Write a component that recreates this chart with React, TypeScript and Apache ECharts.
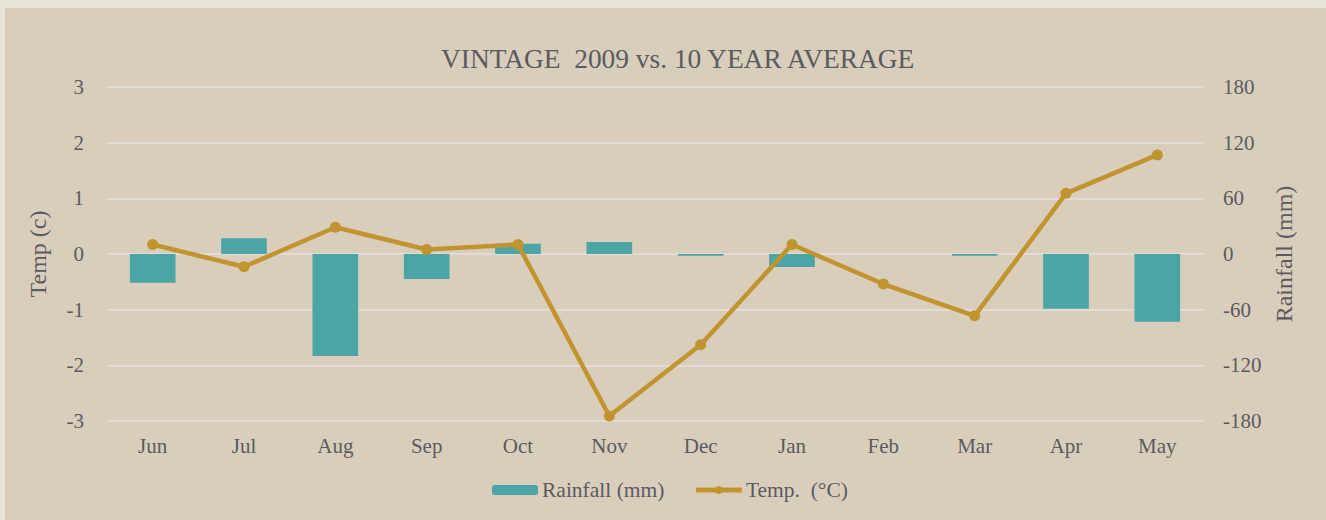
import React, { useEffect, useRef } from "react";
import * as echarts from "echarts";

const months = ["Jun", "Jul", "Aug", "Sep", "Oct", "Nov", "Dec", "Jan", "Feb", "Mar", "Apr", "May"];
const rainfallMm = [-31, 17, -110, -27, 11, 13, -2, -14, 0, -2, -59, -73];
const tempC = [0.17, -0.23, 0.48, 0.08, 0.17, -2.91, -1.63, 0.17, -0.54, -1.11, 1.09, 1.78];
const tempTicks = { min: -3, max: 3, interval: 1 };
const rainTicks = { min: -180, max: 180, interval: 60 };

const FONT = "'Liberation Serif', 'DejaVu Serif', serif";
const TEXT = "#5a5b60";
const GOLD = "#c29430";
const TEAL = "#4ba5a6";

export default function App() {
  const ref = useRef<HTMLDivElement>(null);
  useEffect(() => {
    document.body.style.margin = "0";
    document.body.style.background = "#e8e4d9";
    const chart = echarts.init(ref.current!, undefined, { renderer: "svg" });
    chart.setOption({
      animation: false,
      backgroundColor: "#d9cebb",
      textStyle: { fontFamily: FONT, color: TEXT },
      title: {
        text: "VINTAGE  2009 vs. 10 YEAR AVERAGE",
        left: 431,
        top: 32,
        textStyle: { fontFamily: FONT, fontSize: 27.4, fontWeight: "normal", color: TEXT },
      },
      grid: { left: 102, right: 123, top: 79, bottom: 99 },
      legend: {
        bottom: 14,
        left: 482,
        itemWidth: 46,
        itemHeight: 10,
        itemGap: 29,
        textStyle: { fontFamily: FONT, fontSize: 21.5, color: TEXT, padding: [0, 0, 0, -1] },
        data: [
          { name: "Rainfall (mm)" },
          { name: "Temp.  (°C)", lineStyle: { width: 5 } },
        ],
      },
      xAxis: {
        type: "category",
        data: months,
        axisLine: { show: false },
        axisTick: { show: false },
        axisLabel: { fontFamily: FONT, fontSize: 21, color: TEXT, margin: 14 },
      },
      yAxis: [
        {
          type: "value",
          name: "Temp (c)",
          nameLocation: "middle",
          nameGap: 57,
          nameTextStyle: { fontFamily: FONT, fontSize: 24, color: TEXT },
          ...tempTicks,
          axisLine: { show: false },
          axisTick: { show: false },
          axisLabel: { fontFamily: FONT, fontSize: 21, color: TEXT, margin: 23 },
          splitLine: { lineStyle: { color: "#e2ddd2", width: 2 } },
        },
        {
          type: "value",
          name: "Rainfall (mm)",
          nameLocation: "middle",
          nameGap: 69,
          nameTextStyle: { fontFamily: FONT, fontSize: 24, color: TEXT },
          ...rainTicks,
          axisLine: { show: false },
          axisTick: { show: false },
          axisLabel: { fontFamily: FONT, fontSize: 21, color: TEXT, margin: 20 },
          splitLine: { show: false },
        },
      ],
      series: [
        {
          name: "Rainfall (mm)",
          type: "bar",
          yAxisIndex: 1,
          data: rainfallMm,
          barWidth: "50%",
          itemStyle: { color: TEAL },
          z: 2,
        },
        {
          name: "Temp.  (°C)",
          type: "line",
          yAxisIndex: 0,
          data: tempC,
          symbol: "circle",
          symbolSize: 11,
          lineStyle: { color: GOLD, width: 4.5 },
          itemStyle: { color: GOLD },
          z: 3,
        },
      ],
    });
    return () => chart.dispose();
  }, []);
  return (
    <div
      ref={ref}
      style={{ position: "absolute", left: 5, top: 8, width: 1321, height: 512 }}
    />
  );
}
